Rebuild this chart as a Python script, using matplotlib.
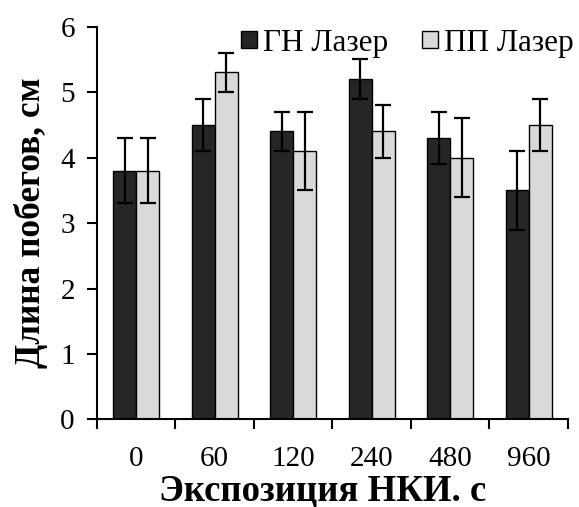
import numpy as np
import matplotlib
matplotlib.use("Agg")
import matplotlib.pyplot as plt

plt.rcParams['font.family'] = ['Liberation Serif', 'DejaVu Serif']

categories = ['0', '60', '120', '240', '480', '960']
gn_values = [3.8, 4.5, 4.4, 5.2, 4.3, 3.5]
gn_errors = [0.5, 0.4, 0.3, 0.3, 0.4, 0.6]
pp_values = [3.8, 5.3, 4.1, 4.4, 4.0, 4.5]
pp_errors = [0.5, 0.3, 0.6, 0.4, 0.6, 0.4]
series_names = ['ГН Лазер', 'ПП Лазер']

fig = plt.figure(figsize=(5.79, 5.07), dpi=100)
ax = fig.add_axes([0.1675, 0.1726, 0.8135, 0.775])

x = np.arange(len(categories))
w = 0.295
err_kw = dict(ecolor='black', elinewidth=1.6, capsize=5.5, capthick=1.6)
ax.bar(x - w / 2, gn_values, w, yerr=gn_errors, color='#262626',
       edgecolor='black', linewidth=1.0, error_kw=err_kw, label=series_names[0])
ax.bar(x + w / 2, pp_values, w, yerr=pp_errors, color='#d9d9d9',
       edgecolor='black', linewidth=1.0, error_kw=err_kw, label=series_names[1])

ax.set_xlim(-0.5, len(categories) - 0.5)
ax.set_ylim(0, 6)
ax.set_yticks(range(0, 7))

# tick marks at category boundaries, labels at centres
ax.set_xticks(np.arange(-0.5, len(categories)), labels=[''] * (len(categories) + 1))
ax.set_xticks(x, labels=categories, minor=True)
ax.tick_params(axis='x', which='major', direction='out', length=7, width=1.5)
ax.tick_params(axis='x', which='minor', length=0, pad=19, labelsize=21)
ax.tick_params(axis='y', direction='out', length=7, width=1.5, labelsize=21, pad=9)

for side in ['top', 'right']:
    ax.spines[side].set_visible(False)
for side in ['left', 'bottom']:
    ax.spines[side].set_linewidth(1.5)

ax.set_xlabel('Экспозиция НКИ. с', fontsize=26.5, fontweight='bold', va='baseline')
ax.xaxis.set_label_coords(0.478, -0.205)
ax.set_ylabel('Длина побегов, см', fontsize=25.5, fontweight='bold', labelpad=9)

ax.legend(loc='center right', bbox_to_anchor=(574 / 579, 1 - 43 / 507),
          bbox_transform=fig.transFigure, ncol=2, frameon=False,
          fontsize=22.5, handlelength=0.5, handleheight=0.5, handletextpad=0.2,
          columnspacing=1.1, borderaxespad=0, borderpad=0)

fig.savefig('out.png', dpi=100)
